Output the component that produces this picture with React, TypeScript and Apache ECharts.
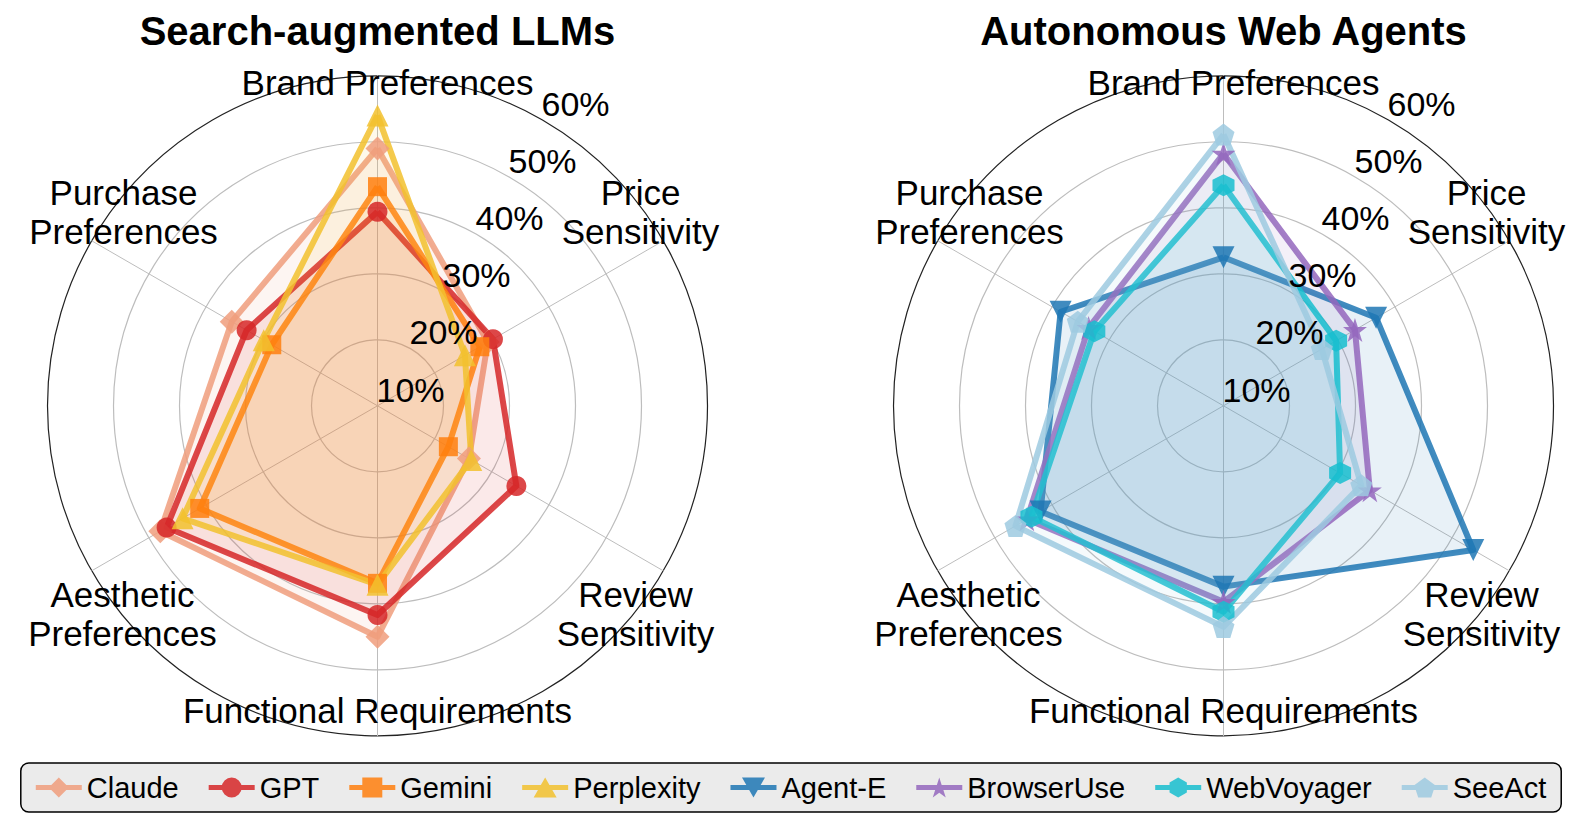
import React, { useEffect, useRef } from 'react';
import * as echarts from 'echarts';

// ---------- data ----------
const categories = [
  'Brand Preferences',
  'Price Sensitivity',
  'Review Sensitivity',
  'Functional Requirements',
  'Aesthetic Preferences',
  'Purchase Preferences',
];
const categoryLabels = [
  'Brand Preferences',
  'Price\nSensitivity',
  'Review\nSensitivity',
  'Functional Requirements',
  'Aesthetic\nPreferences',
  'Purchase\nPreferences',
];
const panelTitles = ['Search-augmented LLMs', 'Autonomous Web Agents'];
const tickValues = [10, 20, 30, 40, 50, 60];
const axisMax = 50;

// values in % in category order above
const claude = [39.0, 19.3, 16.0, 35.0, 38.0, 25.5];
const gpt = [29.4, 20.2, 24.3, 31.7, 36.9, 22.9];
const gemini = [33.2, 17.9, 12.4, 26.9, 31.1, 18.5];
const perplexity = [44.0, 15.3, 16.4, 27.1, 34.1, 19.9];
const agentE = [22.5, 26.7, 43.7, 27.4, 32.0, 28.5];
const browserUse = [38.2, 23.0, 25.6, 29.7, 34.4, 23.6];
const webVoyager = [33.4, 19.7, 20.4, 31.2, 33.6, 22.6];
const seeAct = [41.1, 17.2, 24.1, 33.5, 36.4, 25.5];

const seriesNames = ['Claude', 'GPT', 'Gemini', 'Perplexity', 'Agent-E', 'BrowserUse', 'WebVoyager', 'SeeAct'];
const seriesValues = [claude, gpt, gemini, perplexity, agentE, browserUse, webVoyager, seeAct];
const seriesPanel = [0, 0, 0, 0, 1, 1, 1, 1];

// ---------- styles ----------
const FONT = '"Liberation Sans", Arial, sans-serif';
const colors = ['#f09d7c', '#d62728', '#ff7f0e', '#f2c12e', '#1f77b4', '#9467bd', '#17becf', '#9ecae1'];

type Pt = [number, number];
const polys: Record<string, Pt[]> = {
  diamond: [[50, 0], [100, 50], [50, 100], [0, 50]],
  square: [[0, 0], [100, 0], [100, 100], [0, 100]],
  up: [[50, 0], [100, 87], [0, 87]],
  down: [[0, 0], [100, 0], [50, 87]],
  star: [[50, 0], [61.23, 34.55], [97.55, 34.55], [68.16, 55.9], [79.39, 90.45], [50, 69.1], [20.61, 90.45], [31.84, 55.9], [2.45, 34.55], [38.77, 34.55]],
  hex: [[50, 0], [93.3, 25], [93.3, 75], [50, 100], [6.7, 75], [6.7, 25]],
  pent: [[50, 0], [97.55, 34.55], [79.39, 90.45], [20.61, 90.45], [2.45, 34.55]],
};
const markerKinds = ['diamond', 'circle', 'square', 'up', 'down', 'star', 'hex', 'pent'];
const markerSizes = [24, 20, 19, 22, 22, 24, 22, 22];

function polyPath(pts: Pt[], s: number, ox: number, oy: number) {
  return pts.map((p, i) => `${i ? 'L' : 'M'}${(p[0] * s + ox).toFixed(2)},${(p[1] * s + oy).toFixed(2)}`).join(' ') + ' Z';
}
function seriesSymbol(kind: string) {
  if (kind === 'circle') return 'circle';
  if (kind === 'square') return 'rect';
  if (kind === 'diamond') return 'diamond';
  return 'path://' + polyPath(polys[kind], 1, 0, 0);
}
function legendIcon(kind: string) {
  const line = 'M0,7.5 L46,7.5 L46,12.5 L0,12.5 Z';
  let m = '';
  if (kind === 'circle') {
    m = 'M23,0 A10,10 0 1 1 23,20 A10,10 0 1 1 23,0 Z';
  } else {
    const pts = polys[kind];
    const ys = pts.map((p) => p[1]);
    const xs = pts.map((p) => p[0]);
    const h = Math.max(...ys) - Math.min(...ys);
    const s = 20 / h;
    const w = (Math.max(...xs) - Math.min(...xs)) * s;
    m = polyPath(pts, s, 23 - w / 2 - Math.min(...xs) * s, -Math.min(...ys) * s);
  }
  return 'path://' + line + ' ' + m;
}

// ---------- layout ----------
const centers: Pt[] = [[377.5, 405.8], [1223.5, 405.8]];
const R = 330;
const tickLabelDrop = 41;
const nameOffsets: Pt[] = [
  [10, -323],
  [263, -194],
  [258, 208],
  [0, 305],
  [-255, 208],
  [-254, -194],
];
// echarts radar places indicators counter-clockwise from the top
const ccwOrder = [0, 5, 4, 3, 2, 1];

function buildOption() {
  const radar = centers.map((c) => ({
    center: c,
    radius: R,
    startAngle: 90,
    shape: 'circle',
    splitNumber: 5,
    indicator: ccwOrder.map((i) => ({ name: categories[i], min: 0, max: axisMax })),
    axisName: { show: false },
    splitArea: { show: false },
    axisLine: { lineStyle: { color: '#bdbdbd', width: 1 } },
    axisTick: { show: false },
    splitLine: { lineStyle: { color: ['#bdbdbd', '#bdbdbd', '#bdbdbd', '#bdbdbd', '#bdbdbd', '#222'], width: 1.2 } },
  }));

  const polar = centers.map((c) => ({ center: [c[0], c[1] + tickLabelDrop], radius: (R * tickValues[tickValues.length - 1]) / axisMax }));
  const angleAxis = centers.map((_, k) => ({ polarIndex: k, show: false, startAngle: 60, min: 0, max: 360 }));
  const radiusAxis = centers.map((_, k) => ({
    polarIndex: k,
    z: 5,
    min: 0,
    max: tickValues[tickValues.length - 1],
    interval: tickValues[1] - tickValues[0],
    axisLine: { show: false },
    axisTick: { show: false },
    splitLine: { show: false },
    axisLabel: {
      margin: 0,
      align: 'center',
      verticalAlign: 'middle',
      fontSize: 34,
      fontFamily: FONT,
      color: '#000',
      formatter: (v: number) => (tickValues.indexOf(v) >= 0 ? `${v}%` : ''),
    },
  }));

  const series = seriesNames.map((name, i) => ({
    type: 'radar',
    name,
    radarIndex: seriesPanel[i],
    silent: true,
    emphasis: { disabled: true },
    symbol: seriesSymbol(markerKinds[i]),
    symbolSize: markerSizes[i],
    symbolKeepAspect: true,
    lineStyle: { color: colors[i], width: 6, opacity: 0.85, join: 'round' },
    itemStyle: { color: colors[i], opacity: 0.85 },
    areaStyle: { color: colors[i], opacity: 0.1 },
    data: [{ name, value: ccwOrder.map((k) => seriesValues[i][k]) }],
  }));

  const graphic: any[] = [];
  centers.forEach((c, p) => {
    graphic.push({
      type: 'text',
      x: c[0],
      y: 31,
      z: 100,
      style: { text: panelTitles[p], fontSize: 40, fontWeight: 'bold', fontFamily: FONT, fill: '#000', align: 'center', verticalAlign: 'middle' },
    });
    categoryLabels.forEach((lab, i) => {
      graphic.push({
        type: 'text',
        x: c[0] + nameOffsets[i][0],
        y: c[1] + nameOffsets[i][1],
        z: 100,
        style: { text: lab, fontSize: 35, fontFamily: FONT, fill: '#000', align: 'center', verticalAlign: 'middle', lineHeight: 39 },
      });
    });
  });

  return {
    animation: false,
    backgroundColor: '#fff',
    radar,
    polar,
    angleAxis,
    radiusAxis,
    legend: {
      data: seriesNames.map((n, i) => ({ name: n, icon: legendIcon(markerKinds[i]), itemStyle: { color: colors[i], opacity: 0.85 } })),
      left: 'center',
      top: 763,
      itemWidth: 46,
      itemHeight: 20,
      itemGap: 30,
      padding: [10, 15],
      selectedMode: false,
      backgroundColor: '#ebebeb',
      borderColor: '#000',
      borderWidth: 1.5,
      borderRadius: 8,
      textStyle: { fontSize: 29, fontFamily: FONT, color: '#000' },
    },
    graphic,
    series,
  };
}

export default function App() {
  const ref = useRef<HTMLDivElement>(null);
  useEffect(() => {
    document.body.style.margin = '0';
    const chart = echarts.init(ref.current!, null, { renderer: 'svg', width: 1582, height: 824 });
    chart.setOption(buildOption() as any);
    return () => chart.dispose();
  }, []);
  return <div ref={ref} style={{ position: 'absolute', left: 0, top: 0, width: 1582, height: 824, background: '#fff' }} />;
}
